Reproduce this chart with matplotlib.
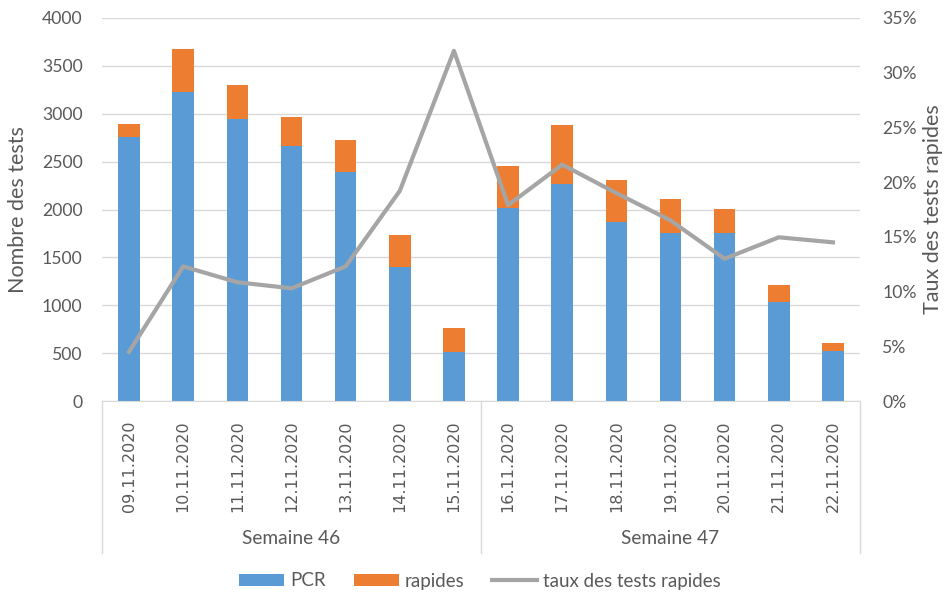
import numpy as np
import matplotlib.pyplot as plt
import matplotlib.transforms as mtransforms
from matplotlib.ticker import FuncFormatter

# data
dates = ["09.11.2020", "10.11.2020", "11.11.2020", "12.11.2020", "13.11.2020",
         "14.11.2020", "15.11.2020", "16.11.2020", "17.11.2020", "18.11.2020",
         "19.11.2020", "20.11.2020", "21.11.2020", "22.11.2020"]
weeks = ["Semaine 46", "Semaine 47"]
pcr = [2760, 3224, 2942, 2667, 2388, 1403, 515, 2019, 2263, 1873, 1758, 1751, 1034, 519]
rapides = [130, 452, 358, 303, 338, 331, 244, 435, 616, 438, 352, 254, 181, 87]
taux = [4.5, 12.3, 10.85, 10.3, 12.3, 19.2, 32.0, 17.9, 21.6, 19.0, 16.5, 13.0, 14.96, 14.5]

BLUE = "#5B9BD5"
ORANGE = "#ED7D31"
GRAY = "#A5A5A5"
GRID = "#D9D9D9"
TXT = "#595959"

plt.rcParams['font.family'] = ['Lato', 'DejaVu Sans']

fig = plt.figure(figsize=(9.44, 5.95), dpi=100)
ax = fig.add_axes([102 / 944, 1 - 401 / 595, 758 / 944, 383 / 595])
ax2 = ax.twinx()

x = np.arange(len(dates))
ax.bar(x, pcr, width=0.4, color=BLUE, label="PCR", zorder=2)
ax.bar(x, rapides, width=0.4, bottom=pcr, color=ORANGE, label="rapides", zorder=2)
ax2.plot(x, taux, color=GRAY, lw=3, label="taux des tests rapides", zorder=3)

ax.set_xlim(-0.5, len(dates) - 0.5)
ax.set_ylim(0, 4000)
ax.set_yticks(range(0, 4001, 500))
ax2.set_ylim(0, 35)
ax2.set_yticks(range(0, 36, 5))
ax2.yaxis.set_major_formatter(FuncFormatter(lambda v, p: f"{int(v)}%"))

ax.grid(axis="y", color=GRID, lw=1, zorder=0)
ax.set_axisbelow(True)
for a in (ax, ax2):
    for s in ("top", "left", "right"):
        a.spines[s].set_visible(False)
ax.spines["bottom"].set_color(GRID)
ax2.spines["bottom"].set_visible(False)

ax.tick_params(axis="y", length=0, labelsize=12.7, colors=TXT, pad=14)
ax2.tick_params(axis="y", length=0, labelsize=12.7, colors=TXT, pad=16)
ax.set_xticks(x)
ax.set_xticklabels(dates, rotation=90, family="DejaVu Sans", fontsize=11.5, color=TXT)
ax.tick_params(axis="x", length=0, pad=14)

ax.set_ylabel("Nombre des tests", fontsize=15.5, color=TXT)
ax2.set_ylabel("Taux des tests rapides", fontsize=15.5, color=TXT)
ax.yaxis.label.set_va("center")
ax2.yaxis.label.set_va("center")
ax.yaxis.set_label_coords((18 - 102) / 758, 0.5)
ax2.yaxis.set_label_coords((933 - 102) / 758, 0.5)

# week grouping below the dates
trans = mtransforms.blended_transform_factory(ax.transData, ax.transAxes)
for xv in (-0.5, 6.5, 13.5):
    ax.plot([xv, xv], [0, -0.397], transform=trans, color=GRID, lw=1, clip_on=False)
ax.text(3, -0.358, weeks[0], transform=trans, ha="center", va="center", fontsize=13.8, color=TXT)
ax.text(10, -0.358, weeks[1], transform=trans, ha="center", va="center", fontsize=13.8, color=TXT)

h1, l1 = ax.get_legend_handles_labels()
h2, l2 = ax2.get_legend_handles_labels()
fig.legend(h1 + h2, l1 + l2, loc="center", bbox_to_anchor=(480 / 944, 1 - 581 / 595),
           ncol=3, frameon=False, fontsize=13.5, labelcolor=TXT,
           handlelength=2.4, handleheight=0.55, handletextpad=0.3, columnspacing=1.5)

fig.savefig("out.png", dpi=100)
